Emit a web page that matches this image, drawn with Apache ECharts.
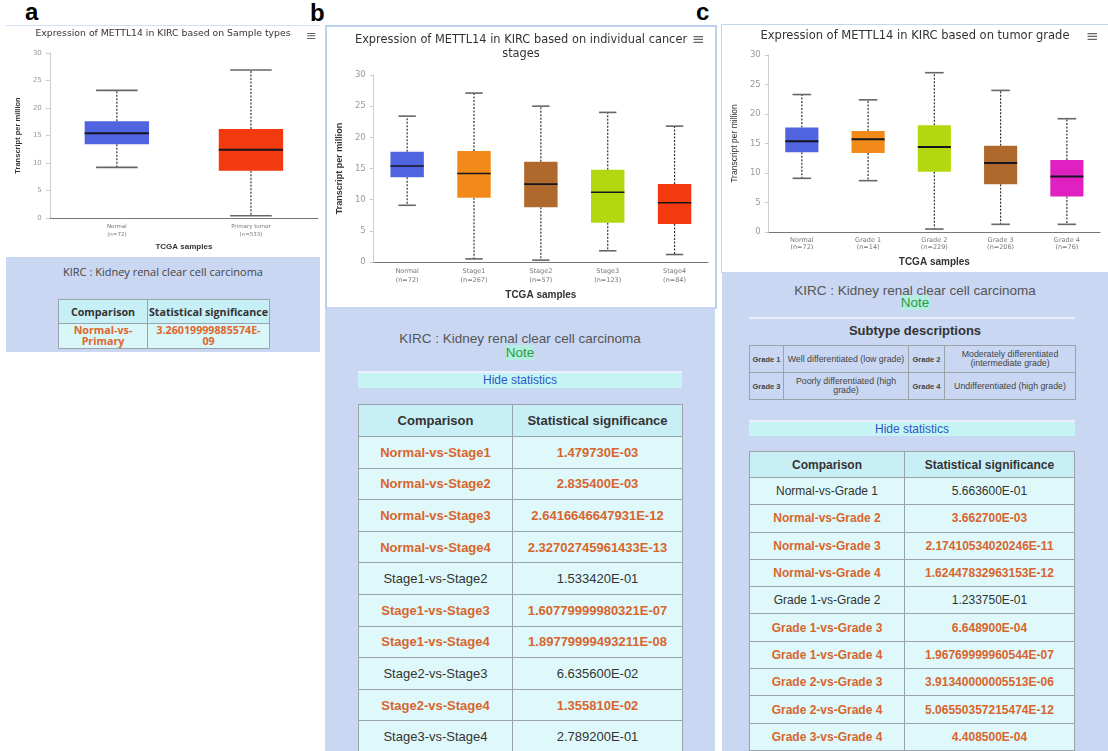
<!DOCTYPE html>
<html><head><meta charset="utf-8">
<script src="https://cdn.jsdelivr.net/npm/echarts/dist/echarts.min.js"></script>
<style>
body{margin:0;width:1108px;height:751px;position:relative;overflow:hidden;background:#fff;font-family:'Liberation Sans',Arial,sans-serif;}
.lav{position:absolute;background:#c9d7f3;}
.lbl{position:absolute;font-weight:bold;font-size:24px;line-height:24px;color:#000;font-family:'Liberation Sans',Arial,sans-serif;}
.chart{position:absolute;}
table.st{border-collapse:collapse;position:absolute;table-layout:fixed;}
table.st td,table.st th{border:1px solid #9aa3ab;text-align:center;padding:0;}
#tabA td{padding:0 4px;}
.ctr{position:absolute;text-align:center;}
</style>
</head><body>

<!-- panel letters -->
<div class="lbl" style="left:25px;top:0px">a</div>
<div class="lbl" style="left:310px;top:1px">b</div>
<div class="lbl" style="left:696px;top:0px">c</div>

<!-- lavender backgrounds -->
<div class="lav" style="left:6px;top:257px;width:314px;height:95px"></div>
<div class="lav" style="left:325px;top:307px;width:390px;height:444px"></div>
<div class="lav" style="left:722px;top:272px;width:386px;height:479px"></div>

<!-- chart containers -->
<div class="chart" id="chartA" style="left:6px;top:25px;width:314px;height:232px;border-top:1px solid #d5e0f3"></div>
<div class="chart" style="left:325px;top:25px;width:388px;height:282px;border:2px solid #bccfee;border-bottom:none;"></div>
<div class="chart" id="chartB" style="left:327px;top:27px;width:388px;height:280px"></div>
<div class="chart" style="left:721px;top:24px;width:387px;height:248px;border-top:1px solid #c5d5ef;border-left:1px solid #c5d5ef;"></div>
<div class="chart" id="chartC" style="left:722px;top:25px;width:386px;height:247px"></div>

<!-- panel a text -->
<div class="ctr" style="left:6px;top:264px;width:314px;font-family:'Open Sans',sans-serif;font-size:11px;color:#444">KIRC : Kidney renal clear cell carcinoma</div>
<table class="st" id="tabA" style="left:58px;top:299px;width:212px;font-family:'Open Sans',sans-serif;font-size:10.7px;"></table>

<!-- panel b text -->
<div class="ctr" style="left:325px;top:332px;width:390px;font-size:13.5px;color:#555;line-height:14px">KIRC : Kidney renal clear cell carcinoma<br><span style="color:#2e9a45;background:#b4eee0">Note</span></div>
<div class="ctr" style="left:358px;top:371px;width:324px;height:15px;background:#c6f4f4;border-top:2px solid #eef;color:#2f55c8;font-size:12px;line-height:15px">Hide statistics</div>
<table class="st" id="tabB" style="left:358px;top:404px;width:325px;font-size:13px;"></table>

<!-- panel c text -->
<div class="ctr" style="left:722px;top:285px;width:386px;font-size:13.5px;color:#555;line-height:12px">KIRC : Kidney renal clear cell carcinoma<br><span style="color:#2e9a45;background:#b4eee0">Note</span></div>
<div style="position:absolute;left:749px;top:317px;width:326px;height:2px;background:#e8eefb"></div>
<div class="ctr" style="left:722px;top:323px;width:386px;font-size:13px;font-weight:bold;color:#333">Subtype descriptions</div>
<table class="st" id="tabSub" style="left:749px;top:345px;width:326px;font-size:8.8px;color:#444;"></table>
<div class="ctr" style="left:749px;top:420px;width:326px;height:14px;background:#c6f4f4;border-top:2px solid #eef;color:#2f55c8;font-size:12px;line-height:14px">Hide statistics</div>
<table class="st" id="tabC" style="left:749px;top:451px;width:326px;font-size:12px;"></table>

<script>
// ---------------- DATA ----------------
// Panel a: sample types
const catsA = ['Normal\n(n=72)', 'Primary tumor\n(n=533)'];
const statsA = [ // [min, Q1, median, Q3, max]
  [9.2, 13.4, 15.4, 17.6, 23.2],
  [0.4, 8.6, 12.4, 16.2, 26.9]
];
const colorsA = ['#5064e0', '#f23a0e'];

// Panel b: cancer stages
const catsB = ['Normal\n(n=72)', 'Stage1\n(n=267)', 'Stage2\n(n=57)', 'Stage3\n(n=123)', 'Stage4\n(n=84)'];
const statsB = [
  [9.1, 13.6, 15.4, 17.7, 23.4],
  [0.5, 10.3, 14.2, 17.8, 27.1],
  [0.3, 8.8, 12.5, 16.1, 25.0],
  [1.8, 6.3, 11.2, 14.8, 24.0],
  [1.2, 6.1, 9.5, 12.5, 21.8]
];
const colorsB = ['#5064e0', '#f28a1a', '#b0692c', '#b3d80f', '#f23a0e'];

// Panel c: tumor grade
const catsC = ['Normal\n(n=72)', 'Grade 1\n(n=14)', 'Grade 2\n(n=229)', 'Grade 3\n(n=206)', 'Grade 4\n(n=76)'];
const statsC = [
  [9.1, 13.5, 15.4, 17.7, 23.3],
  [8.7, 13.4, 15.7, 17.1, 22.4],
  [0.5, 10.2, 14.4, 18.1, 27.0],
  [1.3, 8.1, 11.7, 14.6, 24.0],
  [1.3, 6.0, 9.4, 12.2, 19.2]
];
const colorsC = ['#5064e0', '#f28a1a', '#b3d80f', '#b0692c', '#e020c0'];

const yTicks = [0, 5, 10, 15, 20, 25, 30];

// Statistics tables
const compA = ['Normal-vs-Primary'];
const pA = ['3.26019999885574E-09'];
const sigA = [1];

const compB = ['Normal-vs-Stage1','Normal-vs-Stage2','Normal-vs-Stage3','Normal-vs-Stage4','Stage1-vs-Stage2','Stage1-vs-Stage3','Stage1-vs-Stage4','Stage2-vs-Stage3','Stage2-vs-Stage4','Stage3-vs-Stage4'];
const pB = ['1.479730E-03','2.835400E-03','2.6416646647931E-12','2.32702745961433E-13','1.533420E-01','1.60779999980321E-07','1.89779999493211E-08','6.635600E-02','1.355810E-02','2.789200E-01'];
const sigB = [1,1,1,1,0,1,1,0,1,0];

const compC = ['Normal-vs-Grade 1','Normal-vs-Grade 2','Normal-vs-Grade 3','Normal-vs-Grade 4','Grade 1-vs-Grade 2','Grade 1-vs-Grade 3','Grade 1-vs-Grade 4','Grade 2-vs-Grade 3','Grade 2-vs-Grade 4','Grade 3-vs-Grade 4'];
const pC = ['5.663600E-01','3.662700E-03','2.17410534020246E-11','1.62447832963153E-12','1.233750E-01','6.648900E-04','1.96769999960544E-07','3.91340000005513E-06','5.06550357215474E-12','4.408500E-04'];
const sigC = [0,1,1,1,0,1,1,1,1,1];

const subGrades = ['Grade 1','Grade 2','Grade 3','Grade 4'];
const subDesc = ['Well differentiated (low grade)','Moderately differentiated (intermediate grade)','Poorly differentiated (high grade)','Undifferentiated (high grade)'];

// ---------------- CHARTS ----------------
function boxRender(colors, boxRatio, capRatio, medW) {
  return function (params, api) {
    const i = api.value(0);
    const vals = [api.value(1), api.value(2), api.value(3), api.value(4), api.value(5)];
    const p = vals.map(v => api.coord([i, v]));
    const cx = p[0][0];
    const cw = api.size([1, 0])[0];
    const bw = cw * boxRatio, cap = cw * capRatio;
    const dash = {stroke: '#333', lineWidth: 1.2, lineDash: [2, 1.5]};
    const capS = {stroke: '#666', lineWidth: 1.6};
    return {type: 'group', children: [
      {type: 'line', shape: {x1: cx, y1: p[3][1], x2: cx, y2: p[4][1]}, style: dash},
      {type: 'line', shape: {x1: cx, y1: p[1][1], x2: cx, y2: p[0][1]}, style: dash},
      {type: 'line', shape: {x1: cx - cap / 2, y1: p[4][1], x2: cx + cap / 2, y2: p[4][1]}, style: capS},
      {type: 'line', shape: {x1: cx - cap / 2, y1: p[0][1], x2: cx + cap / 2, y2: p[0][1]}, style: capS},
      {type: 'rect', shape: {x: cx - bw / 2, y: p[3][1], width: bw, height: p[1][1] - p[3][1]}, style: {fill: colors[params.dataIndex]}},
      {type: 'line', shape: {x1: cx - bw / 2, y1: p[2][1], x2: cx + bw / 2, y2: p[2][1]}, style: {stroke: '#151520', lineWidth: medW}}
    ]};
  };
}

function makeChart(id, cfg) {
  const chart = echarts.init(document.getElementById(id), null, {renderer: 'canvas'});
  const data = cfg.stats.map((s, i) => [i].concat(s));
  chart.setOption({
    animation: false,
    title: {text: cfg.title, left: 'center', top: cfg.titleTop, padding: 0,
      textStyle: {fontFamily: 'DejaVu Sans', fontSize: cfg.titleSize, fontWeight: 'normal', color: '#333', lineHeight: cfg.titleLH}},
    graphic: [{type: 'text', left: cfg.menuX, top: cfg.menuY, style: {text: '≡', fontSize: cfg.menuSize, fill: '#666', fontFamily: 'DejaVu Sans'}}],
    grid: cfg.grid,
    xAxis: {type: 'category', data: cfg.cats, boundaryGap: true,
      axisLine: {lineStyle: {color: '#777', width: 1}}, axisTick: {show: false},
      axisLabel: {fontSize: cfg.catSize, color: '#777', lineHeight: cfg.catLH, margin: cfg.catMargin, fontFamily: 'DejaVu Sans'},
      name: 'TCGA samples', nameLocation: 'middle', nameGap: cfg.xNameGap,
      nameTextStyle: {fontWeight: 'bold', fontSize: cfg.xNameSize, color: '#333', fontFamily: 'Liberation Sans'}},
    yAxis: {type: 'value', min: yTicks[0], max: yTicks[yTicks.length - 1], interval: 5,
      axisLine: {show: true, lineStyle: {color: '#ccc'}}, axisTick: {show: true, length: 4, lineStyle: {color: '#ccc'}},
      splitLine: {show: false},
      axisLabel: {fontSize: cfg.ySize, color: '#999', margin: cfg.yMargin, fontFamily: 'DejaVu Sans'},
      name: 'Transcript per million', nameLocation: 'middle', nameRotate: 90, nameGap: cfg.yNameGap,
      nameTextStyle: {fontWeight: cfg.yNameWeight, fontSize: cfg.yNameSize, color: '#333', fontFamily: 'Liberation Sans Narrow, Liberation Sans'}},
    series: [{type: 'custom', data: data, encode: {x: 0, y: [1, 2, 3, 4, 5]},
      renderItem: boxRender(cfg.colors, cfg.boxRatio, cfg.capRatio, cfg.medW)}]
  });
}

makeChart('chartA', {
  title: 'Expression of METTL14 in KIRC based on Sample types', titleTop: 2, titleSize: 9.3, titleLH: 12,
  menuX: 300, menuY: 4, menuSize: 13,
  grid: {left: 34, width: 278, top: 27, height: 165},
  cats: catsA, stats: statsA, colors: colorsA,
  catSize: 5.5, catLH: 7.5, catMargin: 5, xNameGap: 22, xNameSize: 8,
  ySize: 7, yMargin: 8, yNameGap: 23, yNameSize: 7.5, yNameWeight: 'bold',
  boxRatio: 0.48, capRatio: 0.31, medW: 2
});
makeChart('chartB', {
  title: 'Expression of METTL14 in KIRC based on individual cancer\nstages', titleTop: 6, titleSize: 11.4, titleLH: 14,
  menuX: 365, menuY: 6, menuSize: 15,
  grid: {left: 41, width: 340, top: 48, height: 187},
  cats: catsB, stats: statsB, colors: colorsB,
  catSize: 6.5, catLH: 9, catMargin: 5, xNameGap: 27, xNameSize: 10,
  ySize: 8.5, yMargin: 8, yNameGap: 26, yNameSize: 9, yNameWeight: 'bold',
  boxRatio: 0.5, capRatio: 0.26, medW: 1.6
});
makeChart('chartC', {
  title: 'Expression of METTL14 in KIRC based on tumor grade', titleTop: 4, titleSize: 11.5, titleLH: 14,
  menuX: 364, menuY: 5, menuSize: 15,
  grid: {left: 37, width: 341, top: 30, height: 178},
  cats: catsC, stats: statsC, colors: colorsC,
  catSize: 6.5, catLH: 7, catMargin: 5, xNameGap: 25, xNameSize: 10,
  ySize: 8.5, yMargin: 8, yNameGap: 26, yNameSize: 8.5, yNameWeight: 'normal',
  boxRatio: 0.5, capRatio: 0.28, medW: 2
});

// ---------------- TABLES ----------------
function buildStats(id, comps, ps, sigs, opt) {
  const t = document.getElementById(id);
  let h = '<tr style="height:' + opt.headH + 'px;background:' + opt.headBg + '"><th style="width:' + opt.col1 + 'px;color:#333">Comparison</th><th style="color:#333">Statistical significance</th></tr>';
  comps.forEach((c, i) => {
    const st = sigs[i] ? 'color:' + opt.sigColor + ';font-weight:bold' : 'color:#333;font-weight:normal';
    const fmt = s => opt.wrap ? s.replace(/-/g, '-<wbr>') : s;
    h += '<tr style="height:' + opt.rowH + 'px;background:' + opt.rowBg + ';line-height:' + opt.lh + '"><td style="' + st + '">' + fmt(c) + '</td><td style="' + st + '">' + fmt(ps[i]) + '</td></tr>';
  });
  t.innerHTML = h;
}
buildStats('tabA', compA, pA, sigA, {headH: 24, rowH: 25, col1: 88, headBg: '#c6eff6', rowBg: '#d9f6f8', sigColor: '#e0652c', wrap: true, lh: '11px'});
buildStats('tabB', compB, pB, sigB, {headH: 32, rowH: 31.6, col1: 153, headBg: '#c8eef6', rowBg: '#dff9fa', sigColor: '#d8652e', wrap: false, lh: 'normal'});
buildStats('tabC', compC, pC, sigC, {headH: 26, rowH: 27.3, col1: 154, headBg: '#c8eef6', rowBg: '#dff9fa', sigColor: '#d8652e', wrap: false, lh: 'normal'});

(function () {
  const t = document.getElementById('tabSub');
  const widths = [34, 125, 36, 131];
  let h = '<colgroup>' + widths.map(w => '<col style="width:' + w + 'px">').join('') + '</colgroup>';
  for (let r = 0; r < 2; r++) {
    h += '<tr style="height:27px;line-height:9px">';
    for (let c = 0; c < 2; c++) {
      const k = r * 2 + c;
      h += '<td style="font-weight:bold;font-size:7.5px">' + subGrades[k] + '</td>';
      h += '<td style="padding:0 1px">' + subDesc[k] + '</td>';
    }
    h += '</tr>';
  }
  t.innerHTML = h;
})();
</script>
</body></html>
